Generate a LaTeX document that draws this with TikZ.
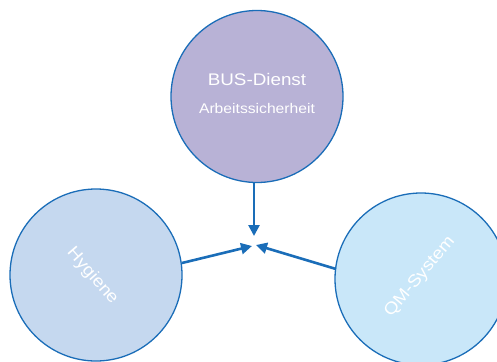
\documentclass[tikz,border=0pt]{standalone}
\usepackage{fontspec}
\setmainfont{Liberation Sans}
\newfontfamily\widefont[FakeStretch=1.12]{Liberation Sans}
\usetikzlibrary{arrows.meta}
\definecolor{edgeblue}{HTML}{1A6DB8}
\definecolor{topfill}{HTML}{B8B2D6}
\definecolor{leftfill}{HTML}{C5D8EF}
\definecolor{rightfill}{HTML}{C9E7F9}
\tikzset{
  bubble/.style={circle, draw=edgeblue, line width=1.3pt, minimum size=172pt, inner sep=0pt},
  label/.style={text=white, inner sep=1pt},
  link/.style={draw=edgeblue, line width=2.6pt, -{Triangle[length=11pt,width=11pt]}}
}
\begin{document}
\begin{tikzpicture}[x=1pt,y=-1pt]
\useasboundingbox (0,0) rectangle (497,361);
\node[bubble, fill=topfill] (bus) at (257,96.5) {};
\node[bubble, fill=leftfill] (hyg) at (96,275) {};
\node[bubble, fill=rightfill] (qm) at (421,279) {};
\node[label, font=\widefont\fontsize{16.8}{19}\selectfont] (bustitle) at (257,79.5) {BUS-Dienst};
\node[label, font=\widefont\fontsize{14}{16}\selectfont] (bussub) at (257,108) {Arbeitssicherheit};
\node[label, font=\widefont\fontsize{16.8}{19}\selectfont, rotate=-49] (hygtext) at (92.5,276) {Hygiene};
\node[label, font=\widefont\fontsize{16.8}{19}\selectfont, rotate=50] (qmtext) at (420,277) {QM-System};
\coordinate (tipA) at (254,236);
\coordinate (tipB) at (252,246);
\coordinate (tipC) at (256,245);
\draw[link] (bus.south -| tipA) -- (tipA);
\draw[link] (182,263) -- (tipB);
\draw[link] (336,269) -- (tipC);
\end{tikzpicture}
\end{document}
